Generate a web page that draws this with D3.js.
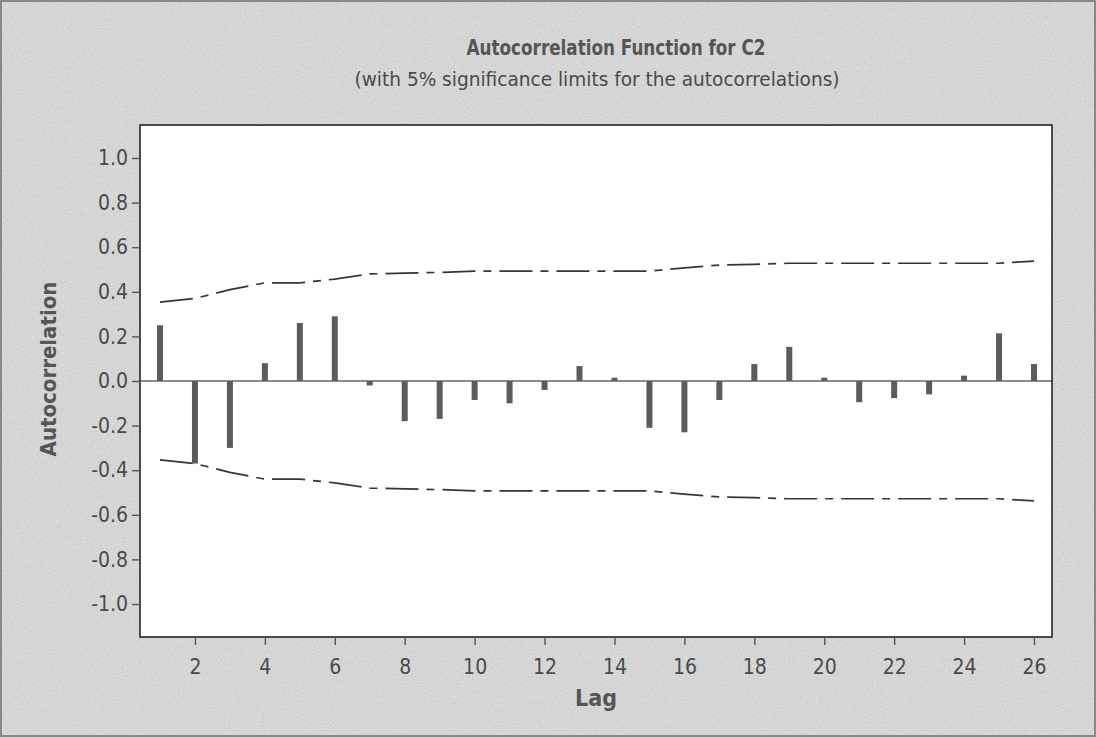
<!DOCTYPE html>
<html>
<head>
<meta charset="utf-8">
<script src="https://cdn.jsdelivr.net/npm/d3@7"></script>
<style>
  body { margin: 0; background: #d6d6d6; }
  svg { display: block; }
  .tick-label { font-family: "DejaVu Sans Condensed", "DejaVu Sans", sans-serif; font-size: 21px; fill: #4a4a4a; }
</style>
</head>
<body>
<script>
'use strict';

//data
var lags = [1, 2, 3, 4, 5, 6, 7, 8, 9, 10, 11, 12, 13, 14, 15, 16, 17, 18, 19, 20, 21, 22, 23, 24, 25, 26];
var acf = [0.25, -0.37, -0.30, 0.08, 0.26, 0.29, -0.02, -0.18, -0.17, -0.085, -0.10, -0.04, 0.067, 0.015, -0.21,
  -0.23, -0.085, 0.076, 0.153, 0.015, -0.095, -0.077, -0.06, 0.024, 0.214, 0.076];
var upperLimit = [0.354, 0.37, 0.41, 0.44, 0.44, 0.457, 0.48, 0.484, 0.487, 0.493, 0.493, 0.493, 0.493, 0.493, 0.493,
  0.507, 0.52, 0.523, 0.528, 0.528, 0.528, 0.528, 0.528, 0.528, 0.528, 0.538];
var yTicks = [-1.0, -0.8, -0.6, -0.4, -0.2, 0.0, 0.2, 0.4, 0.6, 0.8, 1.0];
var xTicks = [2, 4, 6, 8, 10, 12, 14, 16, 18, 20, 22, 24, 26];

//general setup
var W = 1096, H = 737;
var plot = { left: 140, top: 125, right: 1052, bottom: 637 };
var font = '"DejaVu Sans Condensed", "DejaVu Sans", sans-serif';

var svg = d3.select('body').append('svg').attr('width', W).attr('height', H);

//grainy scanned background
var defs = svg.append('defs');
var grain = defs.append('filter').attr('id', 'grain').attr('x', 0).attr('y', 0).attr('width', '100%').attr('height', '100%');
grain.append('feTurbulence').attr('type', 'fractalNoise').attr('baseFrequency', 0.9).attr('numOctaves', 2).attr('seed', 3);
grain.append('feColorMatrix').attr('type', 'matrix')
  .attr('values', '0 0 0 0 0.3  0 0 0 0 0.3  0 0 0 0 0.3  0 0 0 -1.1 0.75');

svg.append('rect').attr('width', W).attr('height', H).attr('fill', '#dcdcdc');
svg.append('rect').attr('width', W).attr('height', H).attr('filter', 'url(#grain)').attr('opacity', 0.45);
svg.append('rect').attr('x', 1).attr('y', 1).attr('width', W - 2).attr('height', H - 2)
  .attr('fill', 'none').attr('stroke', '#888').attr('stroke-width', 2);

//scales
var x = d3.scaleLinear().domain([0.428, 26.515]).range([plot.left, plot.right]);
var y = d3.scaleLinear().domain([-1.148, 1.148]).range([plot.bottom, plot.top]);

//plot area
svg.append('rect').attr('x', plot.left).attr('y', plot.top)
  .attr('width', plot.right - plot.left).attr('height', plot.bottom - plot.top)
  .attr('fill', '#ffffff');

//zero line
svg.append('line').attr('x1', plot.left).attr('x2', plot.right)
  .attr('y1', y(0)).attr('y2', y(0))
  .attr('stroke', '#666').attr('stroke-width', 1.3);

//significance limits
var limitLine = d3.line().x(function (d, i) { return x(lags[i]); });
svg.append('path').datum(upperLimit)
  .attr('d', limitLine.y(function (d) { return y(d); }))
  .attr('fill', 'none').attr('stroke', '#353535').attr('stroke-width', 1.7)
  .attr('stroke-dasharray', '33,8,8,8');
svg.append('path').datum(upperLimit)
  .attr('d', limitLine.y(function (d) { return y(-d); }))
  .attr('fill', 'none').attr('stroke', '#353535').attr('stroke-width', 1.7)
  .attr('stroke-dasharray', '33,8,8,8');

//acf bars
svg.append('g').selectAll('rect').data(acf).enter().append('rect')
  .attr('x', function (d, i) { return x(lags[i]) - 3; })
  .attr('y', function (d) { return Math.min(y(d), y(0)); })
  .attr('width', 6)
  .attr('height', function (d) { return Math.abs(y(d) - y(0)); })
  .attr('fill', '#5c5c5c');

//frame
svg.append('rect').attr('x', plot.left).attr('y', plot.top)
  .attr('width', plot.right - plot.left).attr('height', plot.bottom - plot.top)
  .attr('fill', 'none').attr('stroke', '#3a3a3a').attr('stroke-width', 1.8);

//y axis
var yAxis = svg.append('g').attr('transform', 'translate(' + plot.left + ',0)')
  .call(d3.axisLeft(y).tickValues(yTicks).tickSize(8).tickPadding(4));
yAxis.select('.domain').remove();
yAxis.selectAll('line').attr('stroke', '#555').attr('stroke-width', 1.4);
yAxis.selectAll('text').attr('class', 'tick-label').attr('fill', null).attr('font-size', null).attr('font-family', null)
  .text(function (d) { return d3.format('.1f')(d).replace('\u2212', '-'); });

//x axis
var xAxis = svg.append('g').attr('transform', 'translate(0,' + plot.bottom + ')')
  .call(d3.axisBottom(x).tickValues(xTicks).tickSize(8).tickPadding(14));
xAxis.select('.domain').remove();
xAxis.selectAll('line').attr('stroke', '#555').attr('stroke-width', 1.4);
xAxis.selectAll('text').attr('class', 'tick-label').attr('fill', null).attr('font-size', null).attr('font-family', null);

//axis titles
svg.append('text').attr('x', 596).attr('y', 706).attr('text-anchor', 'middle')
  .style('font-family', font).style('font-size', '23px').style('font-weight', 'bold').style('fill', '#555')
  .text('Lag');
svg.append('text').attr('transform', 'translate(56,369) rotate(-90)').attr('text-anchor', 'middle')
  .style('font-family', font).style('font-size', '22px').style('font-weight', 'bold').style('fill', '#555')
  .text('Autocorrelation');

//title
svg.append('text').attr('x', 616).attr('y', 55).attr('text-anchor', 'middle')
  .attr('textLength', 299).attr('lengthAdjust', 'spacingAndGlyphs')
  .style('font-family', font).style('font-size', '21px').style('font-weight', 'bold').style('fill', '#555')
  .text('Autocorrelation Function for C2');
svg.append('text').attr('x', 597).attr('y', 86).attr('text-anchor', 'middle')
  .attr('textLength', 485).attr('lengthAdjust', 'spacingAndGlyphs')
  .style('font-family', font).style('font-size', '20px').style('fill', '#4a4a4a')
  .text('(with 5% significance limits for the autocorrelations)');
</script>
</body>
</html>
